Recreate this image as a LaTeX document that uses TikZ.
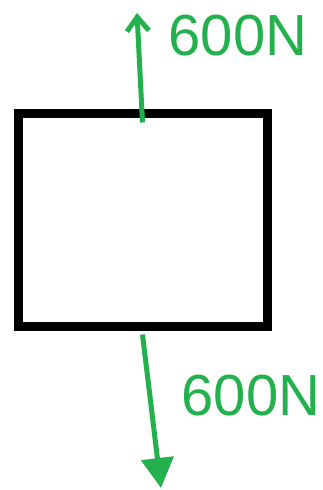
\documentclass[tikz,border=0pt]{standalone}
\usepackage{fontspec}
\setmainfont{Liberation Sans}
\usepackage{xcolor}
\usetikzlibrary{arrows.meta}
\definecolor{forcegreen}{RGB}{34,177,76}

\begin{document}
\begin{tikzpicture}[x=1pt, y=-1pt]
                \useasboundingbox (0,0) rectangle (323,490);
                \node[draw, line width=9pt, inner sep=0pt, minimum width=249pt, minimum height=213pt] (box) at (142.5,219.5) {};
                \coordinate (uptip) at (137,13);
                \coordinate (downtip) at (161,488);
                \draw[-{Straight Barb[length=14pt, width=22pt, line width=5pt]}, line width=5pt, forcegreen] ([yshift=-14pt]box.north) -- (uptip);
                \draw[-{Triangle[length=30pt, width=32pt]}, line width=5pt, forcegreen] ([yshift=-4pt]box.south) -- (downtip);
                \node[text=forcegreen, font=\fontsize{58}{58}\selectfont] (uplabel) at (238,36) {600N};
                \node[text=forcegreen, font=\fontsize{58}{58}\selectfont] (downlabel) at (251,396) {600N};
            \end{tikzpicture}
\end{document}
